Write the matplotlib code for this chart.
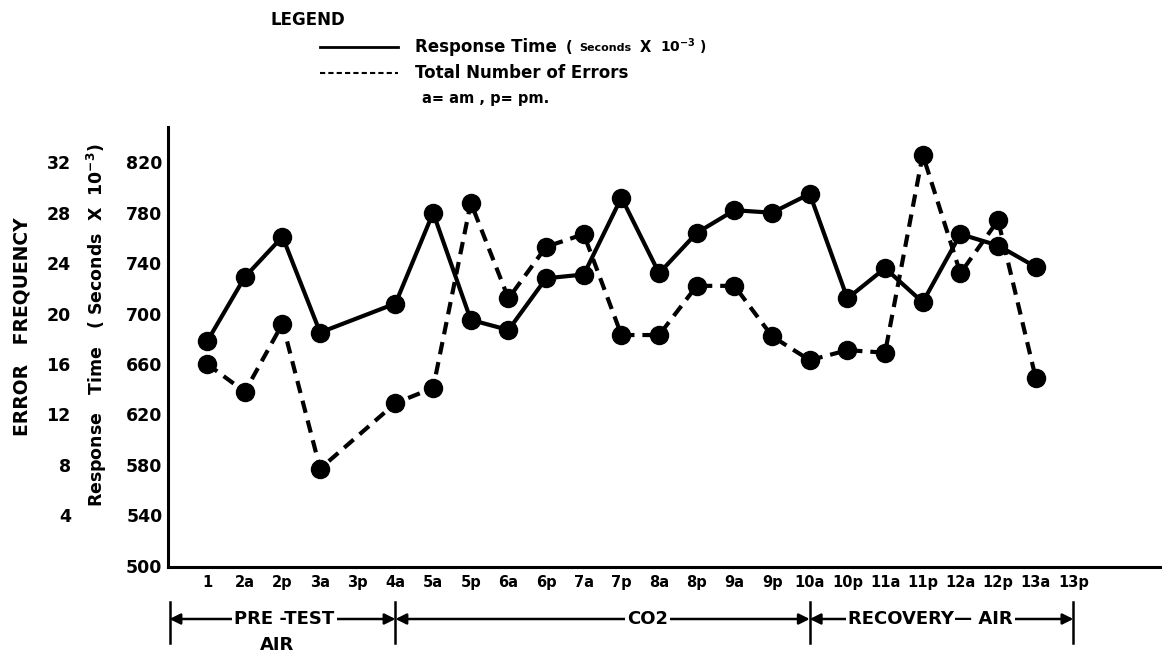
import numpy as np
import matplotlib
matplotlib.use('Agg')
import matplotlib.pyplot as plt
from matplotlib.lines import Line2D
import matplotlib.transforms as mtransforms

W, H = 1162, 656

SESSIONS = ['1', '2a', '2p', '3a', '3p', '4a', '5a', '5p', '6a', '6p', '7a', '7p',
            '8a', '8p', '9a', '9p', '10a', '10p', '11a', '11p', '12a', '12p', '13a', '13p']

# response time (seconds x 10^-3), nan = no reading
RESPONSE = [678, 729, 761, 685, np.nan, 708, 780, 695, 687, 728, 731, 792,
            732, 764, 782, 780, 795, 712, 736, 709, 763, 754, 737, np.nan]

# total number of errors
ERRORS = [16.0, 13.8, 19.2, 7.7, np.nan, 12.9, 14.1, 28.8, 21.2, 25.3, 26.3, 18.3,
          18.3, 22.2, 22.2, 18.2, 16.3, 17.1, 16.9, 32.6, 23.2, 27.4, 14.9, np.nan]

RT_TICKS = [500, 540, 580, 620, 660, 700, 740, 780, 820]
ERR_TICKS = [4, 8, 12, 16, 20, 24, 28, 32]

# phase brackets: label, start index, end index, label centre
PHASES = [('PRE -TEST', -1, 5, 2.05), ('CO2', 5, 16, 11.7), ('RECOVERY\u2014 AIR', 16, 23, 19.2)]

FONT = 'DejaVu Sans'
plt.rcParams['font.family'] = FONT
plt.rcParams['font.weight'] = 'bold'

fig = plt.figure(figsize=(W / 100, H / 100), dpi=100)
ax = fig.add_axes([168 / W, 1 - 567 / H, (1160 - 168) / W, (567 - 127) / H])

RT_LO, RT_HI = 499, 848
x = np.arange(len(SESSIONS))

def draw(axis, vals, dashed):
    v = np.array(vals, dtype=float)
    ok = ~np.isnan(v)
    kw = dict(color='black', lw=3.0, marker='o', markersize=13, zorder=3)
    if dashed:
        kw['dashes'] = (3.0, 1.9)
    axis.plot(x[ok], v[ok], **kw)

draw(ax, RESPONSE, False)
ax.set_ylim(RT_LO, RT_HI)
ax.set_xlim(-1.04, 25.3)
ax.set_yticks(RT_TICKS)
ax.set_yticklabels([str(t) for t in RT_TICKS], fontsize=12.5, fontweight='bold')
ax.set_xticks(x)
ax.set_xticklabels(SESSIONS, fontsize=10.5, fontweight='bold')
ax.tick_params(axis='both', length=0)
ax.tick_params(axis='y', pad=4)
ax.tick_params(axis='x', pad=6)
for s in ['top', 'right']:
    ax.spines[s].set_visible(False)
for s in ['left', 'bottom']:
    ax.spines[s].set_linewidth(2.2)

# error frequency shares the frame: 0 errors sits at 500, 10 ms per error
ax2 = ax.twinx()
ax2.set_ylim((RT_LO - 500) / 10, (RT_HI - 500) / 10)
draw(ax2, ERRORS, True)
ax2.set_yticks(ERR_TICKS)
ax2.set_yticklabels([str(t) for t in ERR_TICKS], fontsize=12.5, fontweight='bold')
ax2.yaxis.tick_left()
ax2.tick_params(axis='y', length=0, pad=70)
for s in ax2.spines.values():
    s.set_visible(False)

fig.text(22 / W, 1 - 327 / H, 'ERROR   FREQUENCY', rotation=90, ha='center', va='center',
         fontsize=13.5, fontweight='bold')
fig.text(97 / W, 1 - 325 / H, 'Response   Time   ( Seconds  X  10$^{-3}$)', rotation=90,
         ha='center', va='center', fontsize=12.5, fontweight='bold')

# legend block
fig.text(270 / W, 1 - 20 / H, 'LEGEND', ha='left', va='center', fontsize=12, fontweight='bold')
fig.add_artist(Line2D([320 / W, 398 / W], [1 - 47 / H, 1 - 47 / H], color='black', lw=2,
                      transform=fig.transFigure))
fig.add_artist(Line2D([320 / W, 398 / W], [1 - 73 / H, 1 - 73 / H], color='black', lw=1.5,
                      dashes=(2.5, 1.5), transform=fig.transFigure))
fig.text(415 / W, 1 - 47 / H, 'Response Time', ha='left', va='center', fontsize=12, fontweight='bold')
fig.text(566 / W, 1 - 47 / H, '(', ha='left', va='center', fontsize=10.5, fontweight='bold')
fig.text(579 / W, 1 - 48 / H, 'Seconds', ha='left', va='center', fontsize=8, fontweight='bold')
fig.text(640 / W, 1 - 47 / H, 'X', ha='left', va='center', fontsize=10.5, fontweight='bold')
fig.text(660 / W, 1 - 47 / H, '10$^{-3}$ )', ha='left', va='center', fontsize=10, fontweight='bold')
fig.text(415 / W, 1 - 73 / H, 'Total Number of Errors', ha='left', va='center', fontsize=12,
         fontweight='bold')
fig.text(422 / W, 1 - 98 / H, 'a= am , p= pm.', ha='left', va='center', fontsize=10.5,
         fontweight='bold')

# phase brackets below the axis
tr = mtransforms.blended_transform_factory(ax.transData, fig.transFigure)
y_arrow = 1 - 619 / H
y_bar0, y_bar1 = 1 - 602 / H, 1 - 643 / H
bounds = sorted({p[1] for p in PHASES} | {p[2] for p in PHASES})
for b in bounds:
    fig.add_artist(Line2D([b, b], [y_bar0, y_bar1], color='black', lw=1.8, transform=tr))
for label, a, b, c in PHASES:
    for end in (a, b):
        ax.annotate('', xy=(end, y_arrow), xytext=(c, y_arrow), xycoords=tr, textcoords=tr,
                    arrowprops=dict(arrowstyle='-|>', color='black', lw=1.8, mutation_scale=16,
                                    shrinkA=0, shrinkB=0), annotation_clip=False)
    ax.text(c, y_arrow, label, transform=tr, ha='center', va='center', fontsize=13,
            fontweight='bold', bbox=dict(facecolor='white', edgecolor='none', pad=1.5), zorder=5)
ax.text(1.86, 1 - 645 / H, 'AIR', transform=tr, ha='center', va='center', fontsize=13,
        fontweight='bold')

fig.savefig('out.png', dpi=100)
